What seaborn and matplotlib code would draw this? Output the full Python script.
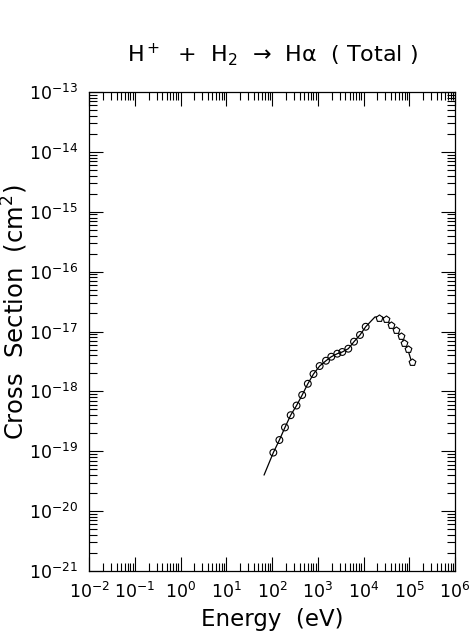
import numpy as np
import pandas as pd
import matplotlib
matplotlib.use("Agg")
import matplotlib.pyplot as plt
from matplotlib.ticker import LogLocator, NullFormatter
import seaborn as sns

# measured points (circles: low energy set, pentagons: high energy set)
circ_energy = [107, 145, 192, 256, 344, 457, 607, 807, 1100, 1514, 1977,
               2674, 3441, 4656, 6200, 8380, 11170]
circ_cs = [9.5e-20, 1.54e-19, 2.5e-19, 4.0e-19, 5.8e-19, 8.7e-19, 1.34e-18,
           1.95e-18, 2.65e-18, 3.25e-18, 3.79e-18, 4.26e-18, 4.55e-18,
           5.16e-18, 6.76e-18, 8.75e-18, 1.20e-17]

pent_energy = [22100, 31000, 39900, 51300, 65000, 78000, 92500, 113000]
pent_cs = [1.65e-17, 1.62e-17, 1.28e-17, 1.06e-17, 8.3e-18, 6.5e-18,
           5.05e-18, 3.1e-18]

# recommended fit curve
fit_energy = [67, 107, 145, 192, 256, 344, 457, 607, 807, 1100, 1514, 1977,
              2674, 3441, 4656, 6200, 8380, 11170, 17800, 25000, 31000,
              39900, 51300, 65000, 78000, 92500, 113000]
fit_cs = [4.0e-20, 9.5e-20, 1.54e-19, 2.5e-19, 4.0e-19, 5.8e-19, 8.7e-19,
          1.34e-18, 1.95e-18, 2.65e-18, 3.25e-18, 3.79e-18, 4.26e-18,
          4.55e-18, 5.16e-18, 6.76e-18, 8.75e-18, 1.20e-17, 1.75e-17,
          1.75e-17, 1.62e-17, 1.28e-17, 1.06e-17, 8.3e-18, 6.5e-18,
          5.05e-18, 3.1e-18]

x_decades = list(range(-2, 7))
y_decades = list(range(-21, -12))

sns.set_style("ticks")
plt.rcParams["font.family"] = ["DejaVu Sans"]
plt.rcParams["mathtext.default"] = "regular"
plt.rcParams["text.color"] = "black"
plt.rcParams["axes.labelcolor"] = "black"

fig = plt.figure(figsize=(4.7, 6.34), dpi=100)
ax = fig.add_axes([89 / 470, 1 - 571 / 634, 366 / 470, 479 / 634])

fit = pd.DataFrame({"energy": fit_energy, "cs": fit_cs})
sns.lineplot(data=fit, x="energy", y="cs", ax=ax, color="black", lw=0.9,
             estimator=None, sort=False)
sns.scatterplot(x=circ_energy, y=circ_cs, ax=ax, marker="o", s=24,
                facecolor="none", edgecolor="black", linewidth=0.8, zorder=3)
sns.scatterplot(x=pent_energy, y=pent_cs, ax=ax, marker="p", s=26,
                facecolor="white", edgecolor="black", linewidth=0.8, zorder=3)

ax.set_xscale("log")
ax.set_yscale("log")
ax.set_xlim(1e-2, 1e6)
ax.set_ylim(1e-21, 1e-13)

ax.set_xticks([10.0 ** k for k in x_decades])
ax.set_yticks([10.0 ** k for k in y_decades])
ax.xaxis.set_minor_locator(LogLocator(base=10, subs=range(2, 10), numticks=200))
ax.yaxis.set_minor_locator(LogLocator(base=10, subs=range(2, 10), numticks=200))
ax.xaxis.set_minor_formatter(NullFormatter())
ax.yaxis.set_minor_formatter(NullFormatter())

ax.tick_params(which="both", direction="in", top=True, right=True,
               width=0.8, colors="black", labelsize=12.5)
ax.tick_params(which="major", length=10)
ax.tick_params(which="minor", length=5.5)
ax.tick_params(axis="both", which="major", pad=8)
for s in ax.spines.values():
    s.set_linewidth(0.9)
    s.set_color("black")

ax.set_xlabel("Energy  (eV)", fontsize=16.5)
ax.xaxis.set_label_coords(0.5, -0.102)
ax.xaxis.label.set_va("center")
ax.set_ylabel("Cross  Section  (cm$^2$)", fontsize=17.5)
ax.yaxis.set_label_coords(-74 / 366, (571 - 312) / 479)
ax.yaxis.label.set_va("center")

fig.text(272 / 470, 1 - 55 / 634, "H$^+$  +  H$_2$  →  Hα  ( Total )",
         ha="center", va="center", fontsize=16)

fig.savefig("out.png", dpi=100)
